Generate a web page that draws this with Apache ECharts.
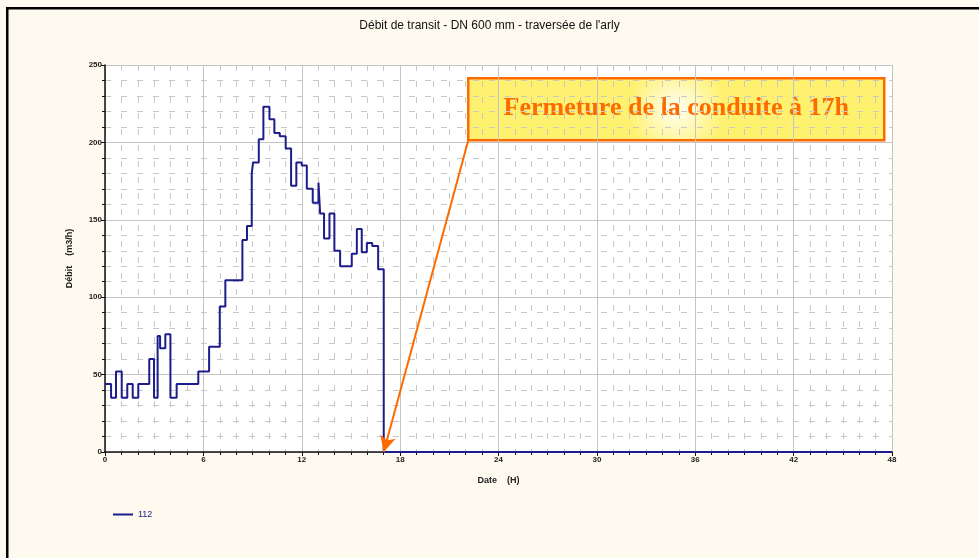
<!DOCTYPE html>
<html>
<head>
<meta charset="utf-8">
<script src="https://cdn.jsdelivr.net/npm/echarts@6/dist/echarts.min.js"></script>
<style>
html,body{margin:0;padding:0;background:#fefaef;}
#c{width:979px;height:558px;}
</style>
</head>
<body>
<div id="c"></div>
<script>
// Hours at which the flow changes, and the flow value from that hour on
const hours = [0, 0.37, 0.67, 1.02, 1.36, 1.69, 2.03, 2.70, 2.99, 3.21, 3.36, 3.68, 3.99, 4.37, 5.69, 6.35, 7.00, 7.34, 8.38, 8.66, 8.95, 9.03, 9.38, 9.66, 10.03, 10.33, 10.66, 11.02, 11.35, 11.67, 12.0, 12.31, 12.67, 13.02, 13.12, 13.36, 13.69, 13.99, 14.34, 15.05, 15.36, 15.66, 15.97, 16.3, 16.66, 17.0, 48];
const flow  = [44, 35, 52, 35, 44, 35, 44, 60, 35, 75, 67, 76, 35, 44, 52, 68, 94, 111, 137, 146, 180, 187, 202, 223, 215, 206, 204, 196, 172, 187, 185, 170, 161, 174, 154, 138, 154, 130, 120, 128, 144, 129, 135, 133, 118, 0, 0];
const seriesName = '112';
const titleText = "Débit de transit - DN 600 mm - traversée de l'arly";
const xName = 'Date    (H)';
const yName = 'Débit    (m3/h)';
const noteText = 'Fermeture de la conduite à 17h';
const arrowFrom = [22.15, 201];
const arrowTo = [17, 0];

const data = hours.map((h, i) => [h, flow[i]]);
const chart = echarts.init(document.getElementById('c'), null, {renderer: 'canvas'});
const navy = '#1c1c8c';
const orange = '#ff6a00';
const labelStyle = {fontFamily: 'Liberation Sans, Arial', fontSize: 8, fontWeight: 'bold', color: '#222'};

chart.setOption({
  backgroundColor: '#fefaef',
  animation: false,
  title: {
    text: titleText, left: 'center', top: 15,
    textStyle: {fontFamily: 'Liberation Sans, Arial', fontSize: 12, fontWeight: 'normal', color: '#111'}
  },
  legend: {
    left: 108, top: 505, itemWidth: 20, itemHeight: 2, icon: 'rect',
    textStyle: {fontFamily: 'Liberation Sans, Arial', fontSize: 9, color: navy},
    data: [seriesName]
  },
  grid: {left: 105, right: 87, top: 65, bottom: 106, show: true, backgroundColor: '#ffffff', borderWidth: 0},
  xAxis: {
    type: 'value', min: 0, max: 48, interval: 6,
    name: xName, nameLocation: 'middle', nameGap: 24,
    nameTextStyle: {fontFamily: 'Liberation Sans, Arial', fontSize: 9, fontWeight: 'bold', color: '#222'},
    axisLine: {show: true, onZero: false, lineStyle: {color: '#111', width: 1.5}},
    axisTick: {show: true, inside: false, length: 4, lineStyle: {color: '#111'}},
    minorTick: {show: true, splitNumber: 6, length: 3, lineStyle: {color: '#111'}},
    axisLabel: Object.assign({margin: 4}, labelStyle),
    splitLine: {show: true, lineStyle: {color: '#c4c4c4', width: 1}},
    minorSplitLine: {show: true, lineStyle: {color: '#c8c8c8', width: 1, type: [6, 10]}}
  },
  yAxis: {
    type: 'value', min: 0, max: 250, interval: 50,
    name: yName, nameLocation: 'middle', nameGap: 31,
    nameTextStyle: {fontFamily: 'Liberation Sans, Arial', fontSize: 9, fontWeight: 'bold', color: '#222'},
    axisLine: {show: true, onZero: false, lineStyle: {color: '#111', width: 1.5}},
    axisTick: {show: true, inside: false, length: 4, lineStyle: {color: '#111'}},
    minorTick: {show: true, splitNumber: 5, length: 3, lineStyle: {color: '#111'}},
    axisLabel: Object.assign({margin: 3}, labelStyle),
    splitLine: {show: true, lineStyle: {color: '#c4c4c4', width: 1}},
    minorSplitLine: {show: true, lineStyle: {color: '#c8c8c8', width: 1, type: [6, 10]}}
  },
  series: [{
    name: seriesName, type: 'line', step: 'end', data: data,
    symbol: 'none', clip: false,
    lineStyle: {color: navy, width: 2},
    itemStyle: {color: navy},
    markLine: {
      silent: true, symbol: ['none', 'arrow'], symbolSize: [12, 16],
      label: {show: false},
      lineStyle: {color: orange, width: 2, type: 'solid'},
      data: [[{coord: arrowFrom}, {coord: arrowTo}]]
    }
  }],
  graphic: [
    {type: 'rect', left: 6, top: 7, shape: {width: 973, height: 2.5}, style: {fill: '#000'}, silent: true},
    {type: 'rect', left: 6, top: 7, shape: {width: 2.5, height: 551}, style: {fill: '#000'}, silent: true},
    {
      type: 'group', left: 467, top: 77,
      children: [
        {type: 'rect', shape: {x: 0, y: 0, width: 416, height: 62},
          style: {
            fill: {type: 'radial', x: 0.5, y: 0.5, r: 0.75,
              colorStops: [{offset: 0, color: '#fffff4'}, {offset: 1, color: '#fff170'}]},
            stroke: orange, lineWidth: 2.5
          }},
        {type: 'text', x: 208, y: 30,
          style: {text: noteText, fill: orange, font: 'bold 26px "Liberation Serif", "Times New Roman", serif',
            textAlign: 'center', textVerticalAlign: 'middle'}}
      ]
    }
  ]
});
</script>
</body>
</html>
